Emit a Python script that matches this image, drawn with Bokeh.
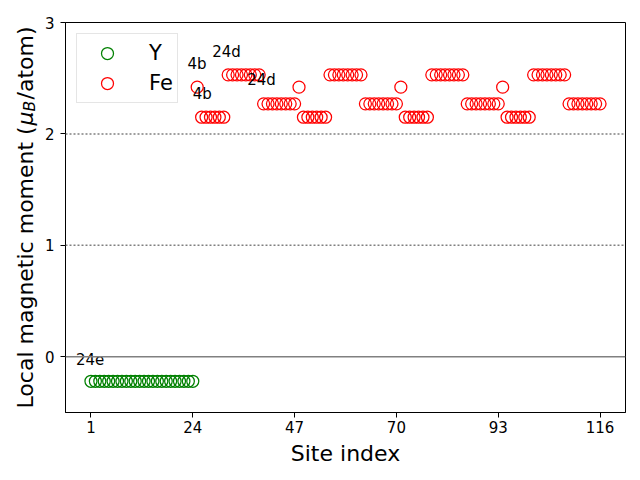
from bokeh.plotting import figure
from bokeh.layouts import row
from bokeh.models import Span, Label, Legend, LegendItem, FixedTicker, Range1d, ColumnDataSource
from bokeh.embed import file_html
from bokeh.resources import INLINE
from bokeh.core.properties import value

# ---- data ----
y_sites = list(range(1, 25))
y_moments = [-0.22, -0.22, -0.22, -0.22, -0.22, -0.22, -0.22, -0.22,
             -0.22, -0.22, -0.22, -0.22, -0.22, -0.22, -0.22, -0.22,
             -0.22, -0.22, -0.22, -0.22, -0.22, -0.22, -0.22, -0.22]

fe_sites = list(range(25, 117))
fe_moments = [
    2.42, 2.15, 2.15, 2.15, 2.15, 2.15, 2.15,
    2.53, 2.53, 2.53, 2.53, 2.53, 2.53, 2.53, 2.53,
    2.27, 2.27, 2.27, 2.27, 2.27, 2.27, 2.27, 2.27,
    2.42, 2.15, 2.15, 2.15, 2.15, 2.15, 2.15,
    2.53, 2.53, 2.53, 2.53, 2.53, 2.53, 2.53, 2.53,
    2.27, 2.27, 2.27, 2.27, 2.27, 2.27, 2.27, 2.27,
    2.42, 2.15, 2.15, 2.15, 2.15, 2.15, 2.15,
    2.53, 2.53, 2.53, 2.53, 2.53, 2.53, 2.53, 2.53,
    2.27, 2.27, 2.27, 2.27, 2.27, 2.27, 2.27, 2.27,
    2.42, 2.15, 2.15, 2.15, 2.15, 2.15, 2.15,
    2.53, 2.53, 2.53, 2.53, 2.53, 2.53, 2.53, 2.53,
    2.27, 2.27, 2.27, 2.27, 2.27, 2.27, 2.27, 2.27,
]

x_ticks = [1, 24, 47, 70, 93, 116]
y_ticks = [0, 1, 2, 3]

ann_text = ["24e", "4b", "24d", "4b", "24d"]
ann_x = [-2.4, 22.8, 28.4, 24.0, 36.3]
ann_y = [-0.02, 2.63, 2.735, 2.356, 2.48]

FONT = "DejaVu Sans"
LABEL_W = 40
TOP, BOTTOM = 22, 68

p = figure(width=640 - LABEL_W, height=480, output_backend="svg", toolbar_location=None,
           x_range=Range1d(-4.75, 121.75), y_range=Range1d(-0.5, 3.0),
           min_border_left=65 - LABEL_W, min_border_right=15, min_border_top=TOP,
           min_border_bottom=BOTTOM)

p.xgrid.visible = False
p.ygrid.visible = False
p.outline_line_color = "black"
p.outline_line_width = 1
p.background_fill_color = "white"
p.border_fill_color = "white"

for ax in (p.xaxis[0], p.yaxis[0]):
    ax.minor_tick_line_color = None
    ax.major_tick_in = 0
    ax.major_tick_out = 5
    ax.axis_line_color = "black"
    ax.major_tick_line_color = "black"
    ax.major_label_text_font = FONT
    ax.major_label_text_font_size = "15px"
    ax.major_label_text_color = "black"

p.xaxis.ticker = FixedTicker(ticks=x_ticks)
p.yaxis.ticker = FixedTicker(ticks=y_ticks)
p.xaxis.major_label_standoff = 3
p.yaxis.major_label_standoff = 6
p.xaxis.axis_label = "Site index"
p.xaxis.axis_label_text_font = FONT
p.xaxis.axis_label_text_font_size = "22px"
p.xaxis.axis_label_text_font_style = "normal"
p.xaxis.axis_label_text_color = "black"
p.xaxis.axis_label_standoff = 5

# reference lines
p.add_layout(Span(location=0, dimension="width", line_color="gray", line_width=1.5))
p.add_layout(Span(location=1, dimension="width", line_color="gray", line_width=1.5, line_dash="2 2"))
p.add_layout(Span(location=2, dimension="width", line_color="gray", line_width=1.5, line_dash="2 2"))

ry = p.scatter(y_sites, y_moments, marker="circle", size=12, fill_color=None,
               line_color="green", line_width=1.25)
rfe = p.scatter(fe_sites, fe_moments, marker="circle", size=12, fill_color=None,
                line_color="red", line_width=1.25)

src = ColumnDataSource(dict(x=ann_x, y=ann_y, t=ann_text))
p.text(x="x", y="y", text="t", source=src, text_font=value(FONT),
       text_font_size=value("15px"), text_align="left", text_baseline="alphabetic",
       text_color="black")

legend = Legend(items=[LegendItem(label="Y", renderers=[ry]),
                       LegendItem(label="Fe", renderers=[rfe])],
                location="top_left", margin=11, padding=4, spacing=0,
                glyph_width=52, glyph_height=30, label_height=30, label_standoff=16,
                label_text_font=FONT, label_text_font_size="21px",
                label_text_color="black",
                border_line_color="#cccccc", border_line_width=1,
                background_fill_alpha=0.8)
p.add_layout(legend)

# y-axis label panel (mu_B with italic subscript); its frame is aligned with the
# main frame by the row layout, so y is expressed as 480 - (pixels from top)
q = figure(width=LABEL_W, height=480, output_backend="svg", toolbar_location=None,
           x_range=Range1d(0, LABEL_W), y_range=Range1d(BOTTOM, 480 - TOP),
           min_border_left=0, min_border_right=0, min_border_top=TOP,
           min_border_bottom=BOTTOM, x_axis_location=None, y_axis_location=None)
q.xgrid.visible = False
q.ygrid.visible = False
q.outline_line_color = None
q.background_fill_color = "white"
q.border_fill_color = "white"

lab_common = dict(angle=90, angle_units="deg", text_font=FONT, text_align="left",
                  text_baseline="alphabetic", text_color="black")
q.add_layout(Label(x=25, y=72, text="Local magnetic moment (", text_font_size="22px", **lab_common))
q.add_layout(Label(x=25, y=355, text="μ", text_font_size="22px", text_font_style="italic", **lab_common))
q.add_layout(Label(x=29, y=369, text="B", text_font_size="15.5px", text_font_style="italic", **lab_common))
q.add_layout(Label(x=25, y=381, text="/atom)", text_font_size="22px", **lab_common))

layout = row(q, p, spacing=0)
open("out.html", "w").write(file_html(layout, INLINE))
